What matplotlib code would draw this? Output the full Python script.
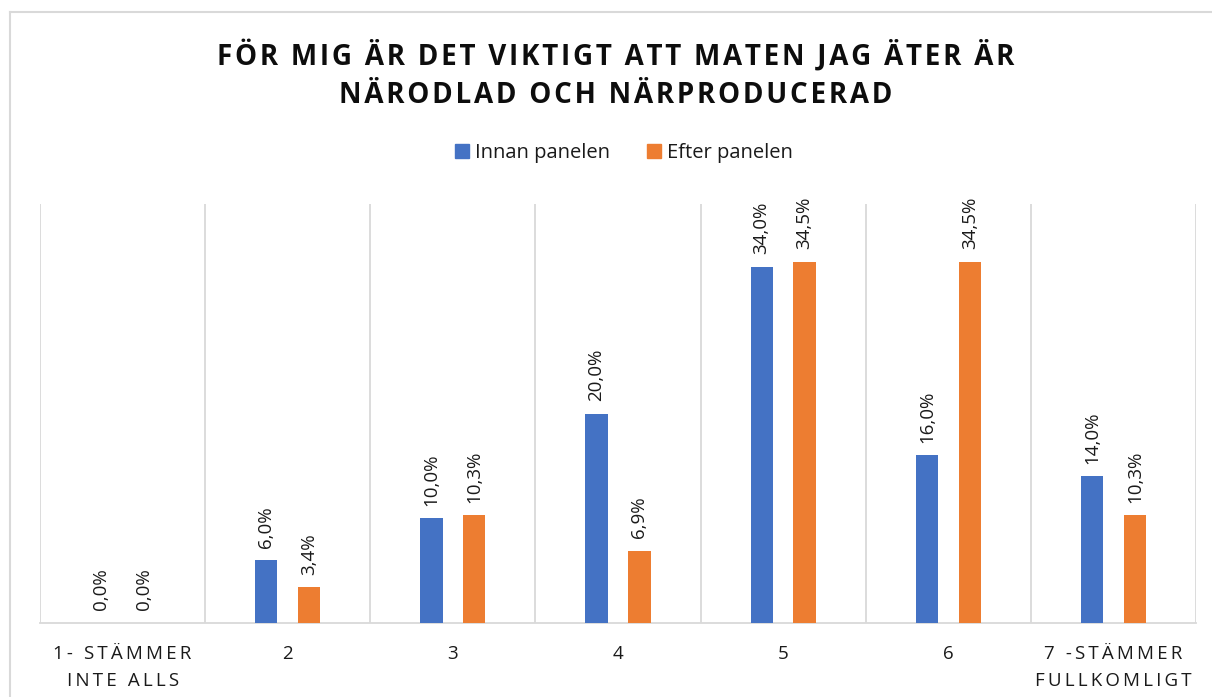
import matplotlib
matplotlib.use("Agg")
import matplotlib.pyplot as plt
import numpy as np
from matplotlib.lines import Line2D
from matplotlib.patches import Patch

plt.rcParams['font.family'] = ['Open Sans', 'DejaVu Sans']

categories = ["1- STÄMMER\nINTE ALLS", "2", "3", "4", "5", "6", "7 -STÄMMER\nFULLKOMLIGT"]
innan = [0.0, 6.0, 10.0, 20.0, 34.0, 16.0, 14.0]
efter = [0.0, 3.4, 10.3, 6.9, 34.5, 34.5, 10.3]
series_names = ["Innan panelen", "Efter panelen"]
title = "FÖR MIG ÄR DET VIKTIGT ATT MATEN JAG ÄTER ÄR\nNÄRODLAD OCH NÄRPRODUCERAD"

blue = "#4472C4"
orange = "#ED7D31"
grid_col = "#D9D9D9"
txt_col = "#1a1a1a"


def spaced(s, sep="\u2009"):
    return "\n".join(sep.join(line) for line in s.split("\n"))


fig = plt.figure(figsize=(12.12, 6.97), dpi=100)
W, H = 1212, 697
ax = fig.add_axes([40 / W, 1 - 623 / H, (1196 - 40) / W, (623 - 204) / H])

x = np.arange(len(categories))
bw = 0.135
off = 0.13
b1 = ax.bar(x - off, innan, bw, color=blue, zorder=3)
b2 = ax.bar(x + off, efter, bw, color=orange, zorder=3)

for bars, vals in ((b1, innan), (b2, efter)):
    for r, v in zip(bars, vals):
        ax.annotate(f"{v:.1f}%".replace(".", ","),
                    (r.get_x() + r.get_width() / 2, r.get_height()),
                    xytext=(0, 9), textcoords="offset points",
                    rotation=90, ha="center", va="bottom",
                    fontsize=13.5, color=txt_col)

ax.set_xlim(-0.5, len(categories) - 0.5)
ax.set_ylim(0, 40)
ax.set_yticks([])
ax.set_xticks(x)
ax.set_xticklabels([spaced(c) for c in categories], fontsize=13.5, color=txt_col,
                   linespacing=1.65)
ax.set_xticks(np.arange(len(categories) + 1) - 0.5, minor=True)
ax.tick_params(axis="x", which="both", length=0, pad=16)
ax.grid(True, which="minor", axis="x", color=grid_col, linewidth=1.3, zorder=0)
for s in ("top", "left", "right"):
    ax.spines[s].set_visible(False)
ax.spines["bottom"].set_color(grid_col)
ax.spines["bottom"].set_linewidth(1.3)

fig.text(0.508, 1 - 75 / H, spaced(title, "\u200a"), ha="center", va="center",
         fontsize=20, fontweight="bold", color="#0d0d0d", linespacing=1.4)

handles = [Patch(color=blue), Patch(color=orange)]
fig.legend(handles, series_names, loc="center", bbox_to_anchor=(624 / W, 1 - 153 / H),
           ncol=2, frameon=False, fontsize=14.5, handlelength=0.7, handleheight=0.7,
           columnspacing=1.8, handletextpad=0.3, labelcolor=txt_col)

# chart frame
fig.add_artist(Line2D([10 / W, 1], [1 - 12 / H, 1 - 12 / H], color=grid_col, linewidth=1.5))
fig.add_artist(Line2D([10 / W, 10 / W], [0, 1 - 12 / H], color=grid_col, linewidth=1.5))

fig.savefig("out.png", dpi=100)
